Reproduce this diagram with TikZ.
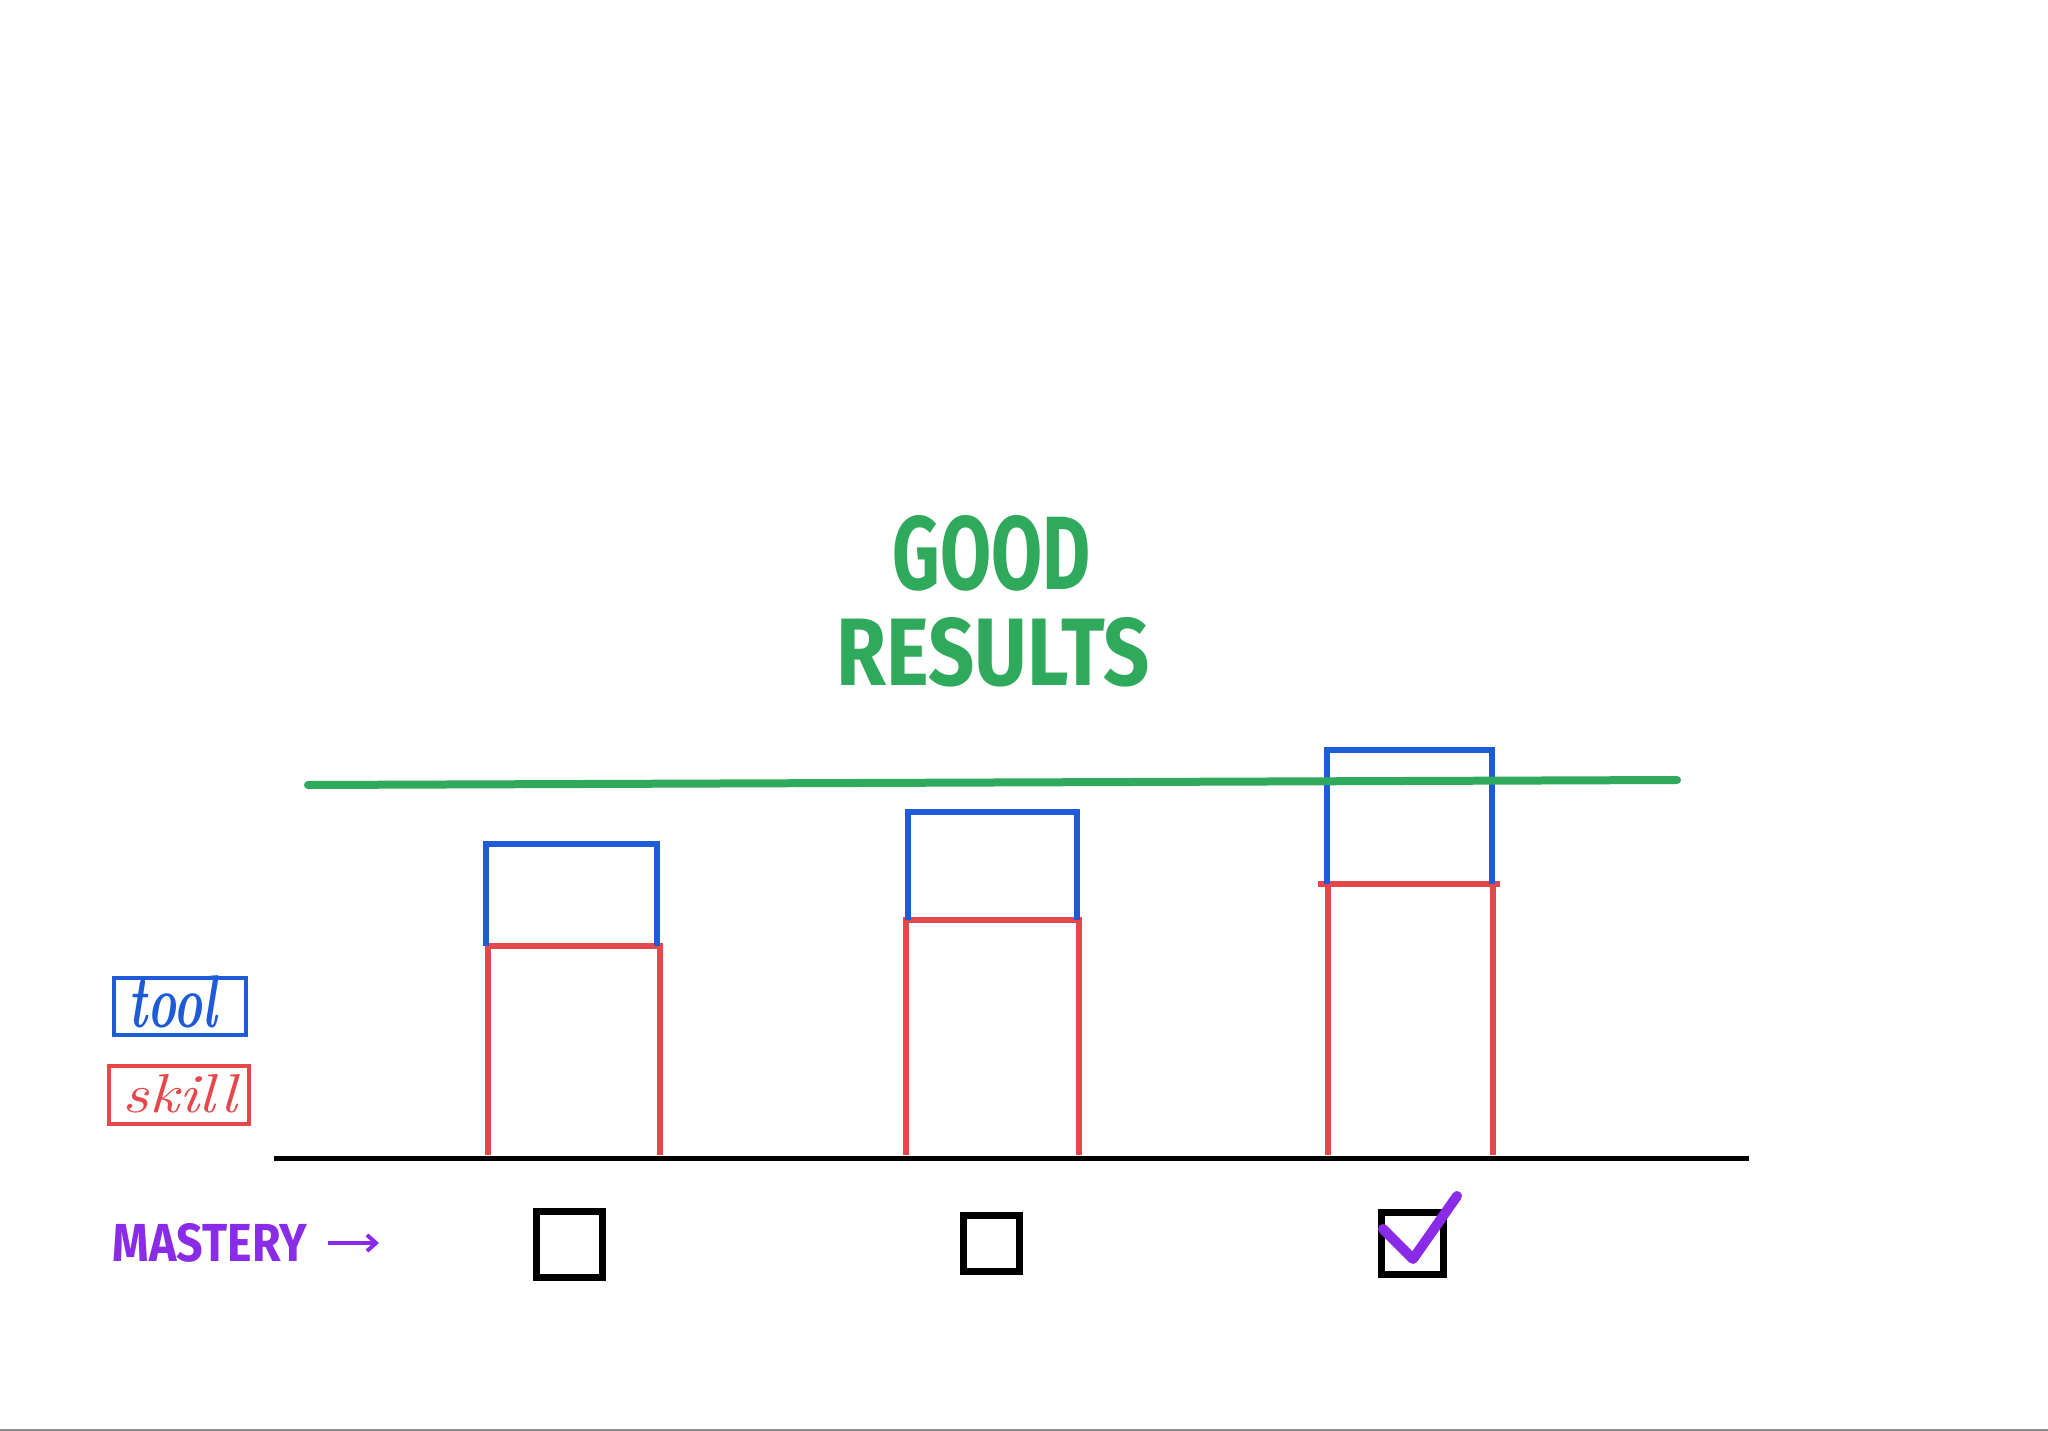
\documentclass[tikz,border=0pt]{standalone}
\usepackage{fontspec}
\setsansfont{Fira Sans}
\usetikzlibrary{arrows.meta}
\definecolor{cgreen}{HTML}{2FAA5C}
\definecolor{cblue}{HTML}{1E5BD8}
\definecolor{cred}{HTML}{E5484B}
\definecolor{cpurple}{HTML}{8A2BE8}
\begin{document}
\begin{tikzpicture}[x=1pt,y=-1pt,
  barline/.style={line width=5.5pt,line join=miter},
  skillbar/.style={barline,cred},
  toolbar/.style={barline,cblue},
  cbox/.style={draw=black,line width=7pt,minimum width=#1,minimum height=#1,inner sep=0pt},
  txt/.style={inner sep=0pt,anchor=center}]
\useasboundingbox (0,0) rectangle (2048,1431);
\fill[white] (0,0) rectangle (2048,1431);
\fill[gray!90] (0,1429) rectangle (2048,1431);

% title
\node[txt,text=cgreen] (good) at (992,553) {\resizebox{198pt}{74pt}{\sffamily\bfseries GOOD}};
\node[txt,text=cgreen] (results) at (993,652) {\resizebox{313pt}{68pt}{\sffamily\bfseries RESULTS}};

% bars: skill (red) then tool (blue)
\draw[skillbar] (488,1155) -- (488,946) -- (660,946) -- (660,1155);
\draw[toolbar] (486,946) -- (486,844) -- (657,844) -- (657,946);
\draw[skillbar] (906,1155) -- (906,920) -- (1079,920) -- (1079,1155);
\draw[toolbar] (908,920) -- (908,812) -- (1077,812) -- (1077,920);
\draw[skillbar] (1328,1155) -- (1328,884) -- (1493,884) -- (1493,1155);
\draw[skillbar] (1318,884) -- (1500,884);
\draw[toolbar] (1327,884) -- (1327,750) -- (1492,750) -- (1492,884);

% good results line
\coordinate (gl) at (308,785);
\coordinate (gr) at (1677,780);
\draw[cgreen,line width=8pt,line cap=round] (gl) -- (gr);

% baseline
\coordinate (bl) at (274,1158);
\coordinate (br) at (1749,1158);
\draw[black,line width=5pt] (bl) -- (br);

% legend
\node[draw=cblue,line width=4pt,minimum width=132pt,minimum height=57pt,inner sep=0pt] (toolbox) at (180,1006) {};
\node[txt,text=cblue] (tool) at (173,1002) {\resizebox{88pt}{52pt}{\itshape\bfseries tool}};
\node[draw=cred,line width=4pt,minimum width=140pt,minimum height=58pt,inner sep=0pt] (skillbox) at (179,1095) {};
\node[txt,text=cred] (skill) at (180,1094) {\resizebox{114pt}{38pt}{\itshape skill}};

% mastery
\node[txt,text=cpurple] (mastery) at (210,1243) {\resizebox{194pt}{38pt}{\sffamily\bfseries MASTERY}};
\coordinate (ma) at (328,1243);
\coordinate (mb) at (379,1243);
\draw[cpurple,line width=4pt,-{Straight Barb[length=9pt,width=16pt]}] (ma) -- (mb);

% checkboxes
\node[cbox=66pt] (c1) at (569,1244) {};
\node[cbox=56pt] (c2) at (991,1243) {};
\node[cbox=62pt] (c3) at (1412,1243) {};
\coordinate (k1) at (1383,1229);
\coordinate (k2) at (1413,1259);
\coordinate (k3) at (1457,1196);
\draw[cpurple,line width=10pt,line cap=round,line join=round] (k1) -- (k2) -- (k3);
\end{tikzpicture}
\end{document}
